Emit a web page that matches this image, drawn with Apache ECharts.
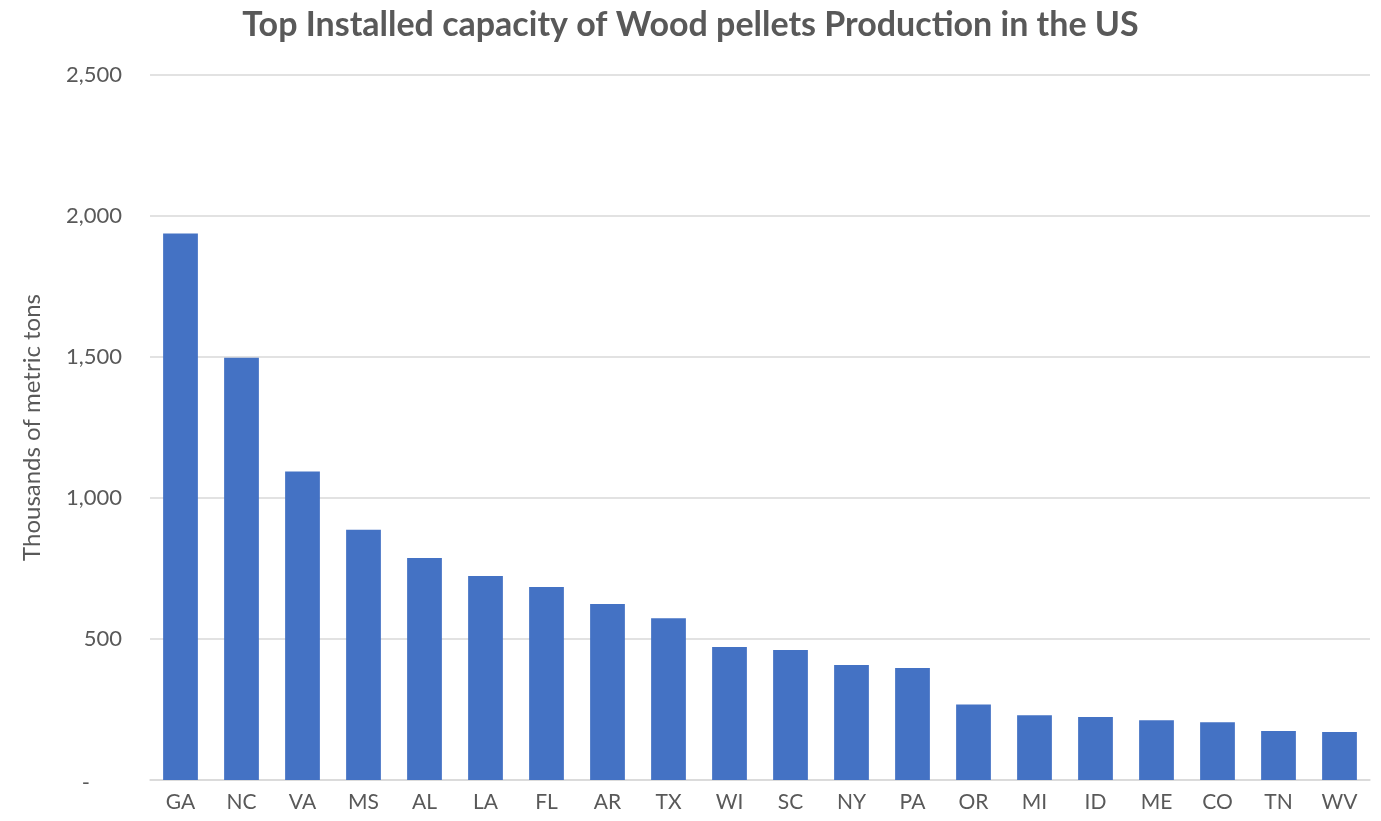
<!DOCTYPE html>
<html>
<head>
<meta charset="utf-8">
<script src="https://cdn.jsdelivr.net/npm/echarts@6/dist/echarts.min.js"></script>
<style>
  html, body { margin: 0; padding: 0; background: #fff; }
  #chart { width: 1381px; height: 821px; }
</style>
</head>
<body>
<div id="chart"></div>
<script>
// 州別 (categories)
var states = ['GA', 'NC', 'VA', 'MS', 'AL', 'LA', 'FL', 'AR', 'TX', 'WI',
              'SC', 'NY', 'PA', 'OR', 'MI', 'ID', 'ME', 'CO', 'TN', 'WV'];
// 產能 (thousands of metric tons)
var capacity = [1938, 1497, 1094, 887, 787, 723, 684, 624, 574, 472,
                461, 408, 397, 268, 230, 223, 212, 205, 174, 170];

var chart = echarts.init(document.getElementById('chart'));
var font = 'Lato, "Open Sans", sans-serif';
var option = {
    title: {
        text: 'Top Installed capacity of Wood pellets Production in the US',
        left: 'center',
        top: 3,
        textStyle: { fontFamily: font, fontSize: 34, fontWeight: 'bold', color: '#595959' }
    },
    grid: { left: 150, right: 11, top: 75, bottom: 41 },
    xAxis: {
        type: 'category',
        data: states,
        axisTick: { show: false },
        axisLine: { lineStyle: { color: '#d9d9d9', width: 1.5 } },
        axisLabel: { color: '#595959', fontFamily: font, fontSize: 21, margin: 12 }
    },
    yAxis: {
        type: 'value',
        min: 0,
        max: 2500,
        interval: 500,
        name: 'Thousands of metric tons',
        nameLocation: 'middle',
        nameGap: 106,
        nameTextStyle: { color: '#595959', fontFamily: font, fontSize: 24 },
        axisLine: { show: false },
        axisTick: { show: false },
        splitLine: { lineStyle: { color: '#d9d9d9', width: 1.5 } },
        axisLabel: {
            color: '#595959', fontFamily: font, fontSize: 22, margin: 28,
            formatter: function (v) { return v === 0 ? '{d|-}' : v.toLocaleString('en-US'); },
            rich: { d: { fontFamily: font, fontSize: 22, color: '#595959', padding: [6, 32, 0, 0] } }
        }
    },
    series: [{
        type: 'bar',
        data: capacity,
        barWidth: '57%',
        itemStyle: { color: '#4472c4' }
    }]
};
chart.setOption(option);
window.addEventListener('resize', function () { chart.resize(); });
</script>
</body>
</html>
